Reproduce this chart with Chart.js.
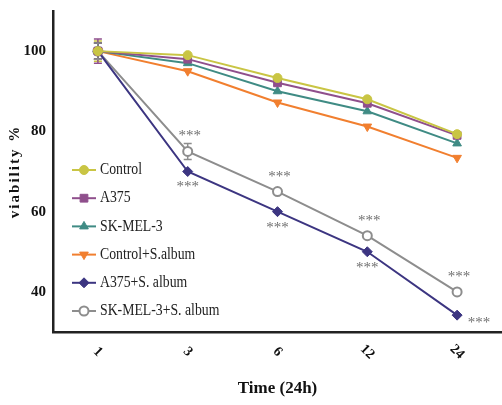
<!DOCTYPE html>
<html>
<head>
<meta charset="utf-8">
<script src="https://cdn.jsdelivr.net/npm/chart.js@4.4.1/dist/chart.umd.min.js"></script>
<style>
  html, body { margin: 0; padding: 0; background: #fff; overflow: hidden; }
</style>
</head>
<body>
<canvas id="chart" width="502" height="405"></canvas>
<script>
// time points (x categories)
const timeLabels = ['1', '3', '6', '12', '24'];

// viability % per group
const control      = [100, 99, 93.3, 88, 79.3];
const a375         = [100, 98, 92.1, 87, 79];
const skmel3       = [100, 97, 90, 85, 77];
const controlAlbum = [100, 95, 87.2, 81.2, 73.4];
const a375Album    = [100, 70, 60, 50, 34.2];
const skmel3Album  = [100, 75, 65, 54, 40];

// error bar half-widths (only visible ones)
const errControl      = [2.5, 0, 0, 0, 0];
const errA375         = [3, 0, 0, 0, 0];
const errSkmel3       = [2, 0, 0, 0, 0];
const errControlAlbum = [2, 0, 0, 0, 0];
const errA375Album    = [2, 0, 0, 0, 0];
const errSkmel3Album  = [2, 2, 0, 0, 0];

// y axis ticks
const yTicks = [40, 60, 80, 100];

// significance marks ("***"): which points get them
const starsAboveGray = ['3', '6', '12', '24'];
const starsBelowPurple = ['3', '6', '12'];
const starsRightPurple = ['24'];

const serif = '"Liberation Serif", "DejaVu Serif", serif';

function ds(label, data, err, color, style, extra) {
  return Object.assign({
    label: label,
    data: data,
    err: err,
    borderColor: color,
    backgroundColor: color,
    pointBackgroundColor: color,
    pointBorderColor: color,
    pointStyle: style,
    pointRadius: 4.5,
    pointBorderWidth: 1,
    borderWidth: 2,
    tension: 0,
    fill: false,
    clip: false
  }, extra || {});
}

const datasets = [
  ds('Control', control, errControl, '#c9c544', 'circle'),
  ds('A375', a375, errA375, '#8f4f8c', 'rect', { pointRadius: 5.5 }),
  ds('SK-MEL-3', skmel3, errSkmel3, '#3f8b84', 'triangle', { pointRadius: 5 }),
  ds('Control+S.album', controlAlbum, errControlAlbum, '#f17f2f', 'triangle', { pointRadius: 5, pointRotation: 180 }),
  ds('A375+S. album', a375Album, errA375Album, '#3c3581', 'rectRot', { pointRadius: 5 }),
  ds('SK-MEL-3+S. album', skmel3Album, errSkmel3Album, '#8d8d8d', 'circle', { pointBackgroundColor: '#fff', pointBorderWidth: 2, pointRadius: 4.5 })
];

// error bars drawn under the lines
const errorBars = {
  id: 'errorBars',
  beforeDatasetsDraw(chart) {
    const { ctx, scales: { x, y } } = chart;
    ctx.save();
    chart.data.datasets.forEach((d) => {
      ctx.strokeStyle = d.borderColor;
      ctx.lineWidth = 1.5;
      d.data.forEach((v, i) => {
        const e = d.err[i];
        if (!e) return;
        const px = x.getPixelForValue(i);
        const top = y.getPixelForValue(v + e);
        const bot = y.getPixelForValue(v - e);
        ctx.beginPath();
        ctx.moveTo(px, top); ctx.lineTo(px, bot);
        ctx.moveTo(px - 4, top); ctx.lineTo(px + 4, top);
        ctx.moveTo(px - 4, bot); ctx.lineTo(px + 4, bot);
        ctx.stroke();
      });
    });
    ctx.restore();
  }
};

// stars, rotated x labels, y title and the inside legend
const extras = {
  id: 'extras',
  afterDraw(chart) {
    const { ctx, scales: { x, y } } = chart;
    ctx.save();

    // significance stars
    ctx.fillStyle = '#6f6f6f';
    ctx.font = '15px ' + serif;
    ctx.textAlign = 'center';
    ctx.textBaseline = 'middle';
    const star = (lab, arr, dx, dy) => {
      const i = timeLabels.indexOf(lab);
      ctx.fillText('***', x.getPixelForValue(i) + dx, y.getPixelForValue(arr[i]) + dy);
    };
    starsAboveGray.forEach(l => star(l, skmel3Album, 2, -15));
    starsBelowPurple.forEach(l => star(l, a375Album, 0, 16));
    starsRightPurple.forEach(l => star(l, a375Album, 22, 8));

    // x tick labels, rotated and centred under ticks
    ctx.fillStyle = '#111';
    ctx.font = 'bold 14px ' + serif;
    timeLabels.forEach((l, i) => {
      ctx.save();
      ctx.translate(x.getPixelForValue(i), y.bottom + 20);
      ctx.rotate(Math.PI / 4);
      ctx.textAlign = 'center';
      ctx.textBaseline = 'middle';
      ctx.fillText(l, 0, 0);
      ctx.restore();
    });

    // y axis title
    ctx.save();
    ctx.translate(15, (y.top + y.bottom) / 2);
    ctx.rotate(-Math.PI / 2);
    ctx.fillStyle = '#111';
    ctx.font = 'bold 15px ' + serif;
    ctx.letterSpacing = '2px';
    ctx.textAlign = 'center';
    ctx.textBaseline = 'middle';
    ctx.fillText('viability %', 0, 0);
    ctx.restore();

    // legend
    const lx = 72, ly = 170, step = 28.2;
    chart.data.datasets.forEach((d, i) => {
      const cy = ly + i * step;
      ctx.strokeStyle = d.borderColor;
      ctx.lineWidth = 2;
      ctx.beginPath();
      ctx.moveTo(lx, cy); ctx.lineTo(lx + 24, cy);
      ctx.stroke();
      ctx.fillStyle = d.pointBackgroundColor;
      ctx.strokeStyle = d.pointBorderColor;
      ctx.lineWidth = d.pointBorderWidth;
      Chart.helpers.drawPoint(ctx, {
        pointStyle: d.pointStyle,
        radius: d.pointRadius,
        rotation: d.pointRotation || 0,
        borderWidth: d.pointBorderWidth
      }, lx + 12, cy);
      ctx.fillStyle = '#222';
      ctx.font = '16px ' + serif;
      ctx.textAlign = 'left';
      ctx.textBaseline = 'middle';
      ctx.save();
      ctx.translate(lx + 28, cy);
      ctx.scale(0.86, 1);
      ctx.fillText(d.label, 0, 0);
      ctx.restore();
    });
    ctx.restore();
  }
};

new Chart(document.getElementById('chart').getContext('2d'), {
  type: 'line',
  data: { labels: timeLabels, datasets: datasets },
  options: {
    responsive: false,
    animation: false,
    layout: { autoPadding: false, padding: { top: 8, right: 0, left: 0, bottom: 0 } },
    plugins: {
      legend: { display: false },
      tooltip: { enabled: false }
    },
    scales: {
      x: {
        offset: true,
        grid: { display: false, drawTicks: true, tickLength: 6, tickColor: '#222', tickWidth: 2 },
        border: { color: '#222', width: 2.5 },
        ticks: { display: false },
        title: {
          display: true,
          text: 'Time (24h)',
          color: '#111',
          font: { family: serif, size: 17, weight: 'bold' },
          padding: { top: 0, bottom: 6 }
        },
        afterFit(scale) { scale.height = 73; }
      },
      y: {
        min: 30,
        max: 110,
        afterBuildTicks(scale) { scale.ticks = yTicks.map(v => ({ value: v })); },
        grid: { display: false, drawTicks: true, tickLength: 5, tickColor: '#222', tickWidth: 2 },
        border: { color: '#222', width: 2.5 },
        ticks: {
          color: '#111',
          padding: 2,
          font: { family: serif, size: 15, weight: 'bold' }
        },
        afterFit(scale) { scale.width = 53; }
      }
    }
  },
  plugins: [errorBars, extras]
});
</script>
</body>
</html>
